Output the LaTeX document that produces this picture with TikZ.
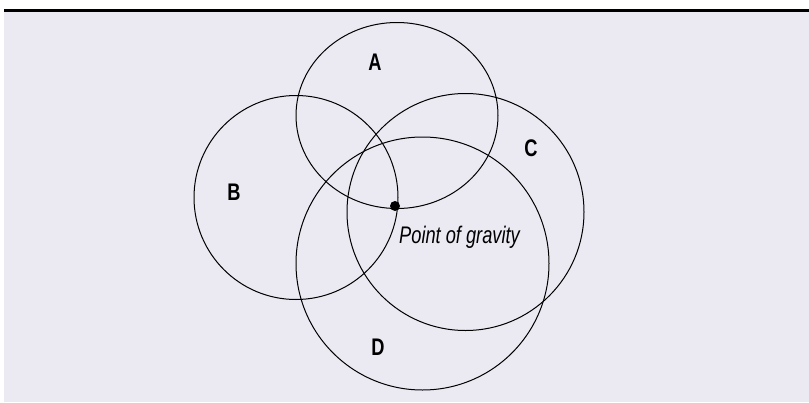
\documentclass[tikz,border=0pt]{standalone}
\usepackage{fontspec}
\usepackage{tikz}
\usetikzlibrary{shapes.geometric, positioning}
\newfontfamily\lblfont{Liberation Sans}[FakeStretch=0.76]
\definecolor{panel}{HTML}{EBEAF3}

\begin{document}
\begin{tikzpicture}[x=1pt, y=-1pt]
    \tikzstyle{ring}=[circle, draw=black, line width=1pt, inner sep=0pt]
    \tikzstyle{oval}=[ellipse, draw=black, line width=1pt, inner sep=0pt]
    \tikzstyle{tag}=[font=\lblfont\bfseries\fontsize{24}{26}\selectfont, inner sep=0pt]

    \useasboundingbox (0,0) rectangle (809,402);
    \fill[panel] (4,11) rectangle (809,402);
    \draw[line width=2.6pt] (4,10.5) -- (809,10.5);

    % sets
    \node[oval, minimum width=202pt, minimum height=186pt] (setA) at (397,115.5) {};
    \node[ring, minimum size=204pt] (setB) at (296,197.5) {};
    \node[ring, minimum size=237pt] (setC) at (465.5,212) {};
    \node[ring, minimum size=253pt] (setD) at (422.5,263.5) {};

    \node[tag] (labA) at (375,62) {A};
    \node[tag] (labB) at (234,192) {B};
    \node[tag] (labC) at (531,148) {C};
    \node[tag] (labD) at (378,347) {D};

    % point of gravity
    \node[circle, fill=black, minimum size=10pt, inner sep=0pt] (pog) at (395,206) {};
    \node[anchor=base west, inner sep=0pt, font=\lblfont\itshape\fontsize{24}{26}\selectfont]
        (pogtxt) at (399,243) {Point of gravity};
\end{tikzpicture}
\end{document}
